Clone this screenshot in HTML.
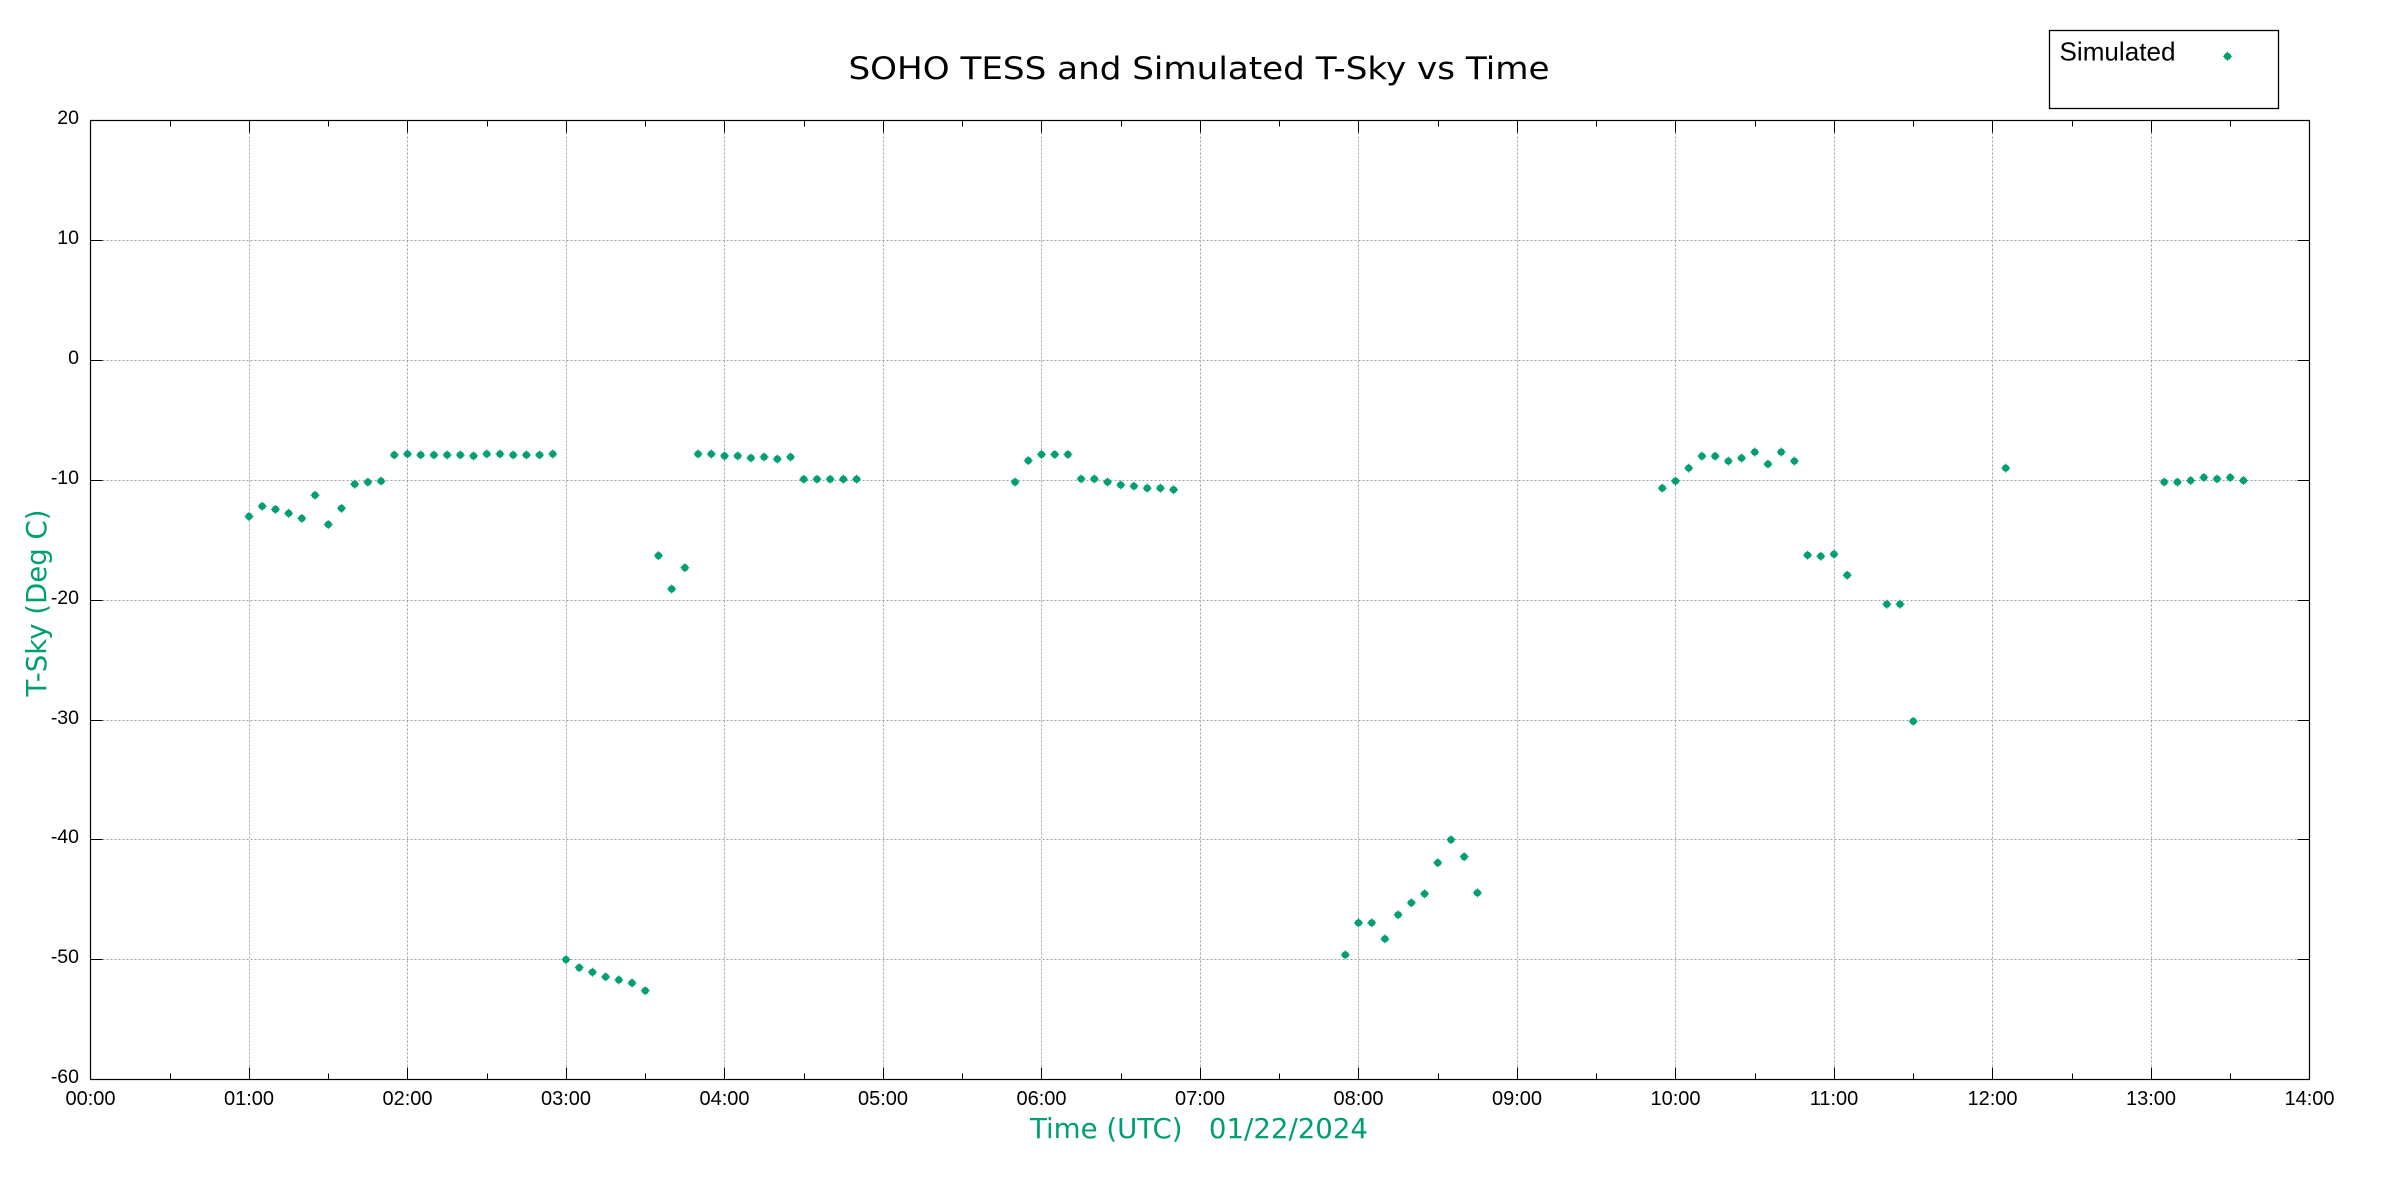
<!DOCTYPE html>
<html>
<head>
<meta charset="utf-8">
<style>
html,body{margin:0;padding:0;background:#fff;}
svg{display:block;}
.tk{font-family:"Liberation Sans",Arial,sans-serif;fill:#000;}
.lab{font-family:"DejaVu Sans","Liberation Sans",sans-serif;fill:#009e73;}
</style>
</head>
<body>
<svg width="2400" height="1200" viewBox="0 0 2400 1200" xmlns="http://www.w3.org/2000/svg">
<defs>
<g id="p"><circle cx="0" cy="0" r="3.6" fill="#009e73"/><rect x="-4.5" y="-0.5" width="9" height="1" fill="#009e73"/><rect x="-0.5" y="-4.5" width="1" height="9" fill="#009e73"/></g>
</defs>
<rect x="0" y="0" width="2400" height="1200" fill="#fff"/>
<g stroke="#a0a0a0" stroke-width="1" stroke-dasharray="2 2" fill="none">
<path d="M249.5 120.5V1079.5M407.5 120.5V1079.5M566.5 120.5V1079.5M724.5 120.5V1079.5M883.5 120.5V1079.5M1041.5 120.5V1079.5M1200.5 120.5V1079.5M1358.5 120.5V1079.5M1517.5 120.5V1079.5M1675.5 120.5V1079.5M1834.5 120.5V1079.5M1992.5 120.5V1079.5M2151.5 120.5V1079.5"/>
<path d="M90.5 240.5H2309.5M90.5 360.5H2309.5M90.5 480.5H2309.5M90.5 600.5H2309.5M90.5 720.5H2309.5M90.5 839.5H2309.5M90.5 959.5H2309.5"/>
</g>
<g stroke="#000" stroke-width="1" fill="none">
<path d="M249.5 1079.5V1067.5M407.5 1079.5V1067.5M566.5 1079.5V1067.5M724.5 1079.5V1067.5M883.5 1079.5V1067.5M1041.5 1079.5V1067.5M1200.5 1079.5V1067.5M1358.5 1079.5V1067.5M1517.5 1079.5V1067.5M1675.5 1079.5V1067.5M1834.5 1079.5V1067.5M1992.5 1079.5V1067.5M2151.5 1079.5V1067.5"/>
<path d="M249.5 120.5V132.5M407.5 120.5V132.5M566.5 120.5V132.5M724.5 120.5V132.5M883.5 120.5V132.5M1041.5 120.5V132.5M1200.5 120.5V132.5M1358.5 120.5V132.5M1517.5 120.5V132.5M1675.5 120.5V132.5M1834.5 120.5V132.5M1992.5 120.5V132.5M2151.5 120.5V132.5"/>
<path d="M170.5 1079.5V1073.5M328.5 1079.5V1073.5M487.5 1079.5V1073.5M645.5 1079.5V1073.5M804.5 1079.5V1073.5M962.5 1079.5V1073.5M1121.5 1079.5V1073.5M1279.5 1079.5V1073.5M1438.5 1079.5V1073.5M1596.5 1079.5V1073.5M1755.5 1079.5V1073.5M1913.5 1079.5V1073.5M2072.5 1079.5V1073.5M2230.5 1079.5V1073.5"/>
<path d="M170.5 120.5V126.5M328.5 120.5V126.5M487.5 120.5V126.5M645.5 120.5V126.5M804.5 120.5V126.5M962.5 120.5V126.5M1121.5 120.5V126.5M1279.5 120.5V126.5M1438.5 120.5V126.5M1596.5 120.5V126.5M1755.5 120.5V126.5M1913.5 120.5V126.5M2072.5 120.5V126.5M2230.5 120.5V126.5"/>
<path d="M90.5 240.5H102.5M90.5 360.5H102.5M90.5 480.5H102.5M90.5 600.5H102.5M90.5 720.5H102.5M90.5 839.5H102.5M90.5 959.5H102.5"/>
<path d="M2309.5 240.5H2297.5M2309.5 360.5H2297.5M2309.5 480.5H2297.5M2309.5 600.5H2297.5M2309.5 720.5H2297.5M2309.5 839.5H2297.5M2309.5 959.5H2297.5"/>
</g>
<rect x="90.5" y="120.5" width="2219" height="959" fill="none" stroke="#000" stroke-width="1.2"/>
<g class="tk" font-size="19.5" text-anchor="end">
<text x="79" y="124">20</text>
<text x="79" y="244">10</text>
<text x="79" y="364">0</text>
<text x="79" y="484">-10</text>
<text x="79" y="604">-20</text>
<text x="79" y="724">-30</text>
<text x="79" y="843">-40</text>
<text x="79" y="963">-50</text>
<text x="79" y="1083">-60</text>
</g>
<g class="tk" font-size="20" text-anchor="middle">
<text x="90.5" y="1105">00:00</text>
<text x="249" y="1105">01:00</text>
<text x="407.5" y="1105">02:00</text>
<text x="566" y="1105">03:00</text>
<text x="724.5" y="1105">04:00</text>
<text x="883" y="1105">05:00</text>
<text x="1041.5" y="1105">06:00</text>
<text x="1200" y="1105">07:00</text>
<text x="1358.5" y="1105">08:00</text>
<text x="1517" y="1105">09:00</text>
<text x="1675.5" y="1105">10:00</text>
<text x="1834" y="1105">11:00</text>
<text x="1992.5" y="1105">12:00</text>
<text x="2151" y="1105">13:00</text>
<text x="2309.5" y="1105">14:00</text>
</g>
<text x="848.5" y="79" font-family="'DejaVu Sans','Liberation Sans',sans-serif" font-size="31" fill="#000" textLength="701" lengthAdjust="spacingAndGlyphs">SOHO TESS and Simulated T-Sky vs Time</text>
<text class="lab" x="1030" y="1138" font-size="27.5" textLength="338" lengthAdjust="spacingAndGlyphs">Time (UTC)&#160;&#160;&#160;01/22/2024</text>
<text class="lab" transform="translate(46,696.5) rotate(-90)" x="0" y="0" font-size="27.5" textLength="187" lengthAdjust="spacingAndGlyphs">T-Sky (Deg C)</text>
<rect x="2049.5" y="30.5" width="229" height="78" fill="#fff" stroke="#000" stroke-width="1.3"/>
<text class="tk" x="2059.5" y="60.5" font-size="26" textLength="116" lengthAdjust="spacingAndGlyphs">Simulated</text>
<use href="#p" x="2227.5" y="56.3"/>
<g>
<use href="#p" x="249.0" y="516.45"/>
<use href="#p" x="262.21" y="506.26"/>
<use href="#p" x="275.42" y="509.37"/>
<use href="#p" x="288.63" y="513.33"/>
<use href="#p" x="301.83" y="518.36"/>
<use href="#p" x="315.04" y="495.23"/>
<use href="#p" x="328.25" y="524.48"/>
<use href="#p" x="341.46" y="508.30"/>
<use href="#p" x="354.67" y="484.20"/>
<use href="#p" x="367.88" y="482.16"/>
<use href="#p" x="381.08" y="481.08"/>
<use href="#p" x="394.29" y="454.95"/>
<use href="#p" x="407.5" y="453.99"/>
<use href="#p" x="420.71" y="454.95"/>
<use href="#p" x="433.92" y="454.95"/>
<use href="#p" x="447.13" y="454.95"/>
<use href="#p" x="460.33" y="454.95"/>
<use href="#p" x="473.54" y="455.91"/>
<use href="#p" x="486.75" y="453.99"/>
<use href="#p" x="499.96" y="453.99"/>
<use href="#p" x="513.17" y="454.95"/>
<use href="#p" x="526.38" y="454.95"/>
<use href="#p" x="539.58" y="454.95"/>
<use href="#p" x="552.79" y="453.99"/>
<use href="#p" x="566.0" y="959.63"/>
<use href="#p" x="579.21" y="967.66"/>
<use href="#p" x="592.42" y="972.21"/>
<use href="#p" x="605.63" y="976.89"/>
<use href="#p" x="618.83" y="979.88"/>
<use href="#p" x="632.04" y="983.00"/>
<use href="#p" x="645.25" y="990.68"/>
<use href="#p" x="658.46" y="555.65"/>
<use href="#p" x="671.67" y="588.97"/>
<use href="#p" x="684.88" y="567.75"/>
<use href="#p" x="698.08" y="453.99"/>
<use href="#p" x="711.29" y="453.99"/>
<use href="#p" x="724.5" y="455.91"/>
<use href="#p" x="737.71" y="455.91"/>
<use href="#p" x="750.92" y="457.95"/>
<use href="#p" x="764.13" y="456.99"/>
<use href="#p" x="777.33" y="459.03"/>
<use href="#p" x="790.54" y="456.99"/>
<use href="#p" x="803.75" y="479.17"/>
<use href="#p" x="816.96" y="479.17"/>
<use href="#p" x="830.17" y="479.17"/>
<use href="#p" x="843.38" y="479.17"/>
<use href="#p" x="856.58" y="479.17"/>
<use href="#p" x="1015.08" y="482.04"/>
<use href="#p" x="1028.29" y="460.59"/>
<use href="#p" x="1041.5" y="454.47"/>
<use href="#p" x="1054.71" y="454.47"/>
<use href="#p" x="1067.92" y="454.47"/>
<use href="#p" x="1081.13" y="478.93"/>
<use href="#p" x="1094.33" y="478.93"/>
<use href="#p" x="1107.54" y="482.04"/>
<use href="#p" x="1120.75" y="484.92"/>
<use href="#p" x="1133.96" y="486.12"/>
<use href="#p" x="1147.17" y="488.16"/>
<use href="#p" x="1160.38" y="488.16"/>
<use href="#p" x="1173.58" y="489.72"/>
<use href="#p" x="1345.29" y="954.83"/>
<use href="#p" x="1358.5" y="922.82"/>
<use href="#p" x="1371.71" y="922.82"/>
<use href="#p" x="1384.92" y="938.89"/>
<use href="#p" x="1398.13" y="914.79"/>
<use href="#p" x="1411.33" y="902.80"/>
<use href="#p" x="1424.54" y="893.81"/>
<use href="#p" x="1437.75" y="862.77"/>
<use href="#p" x="1450.96" y="839.75"/>
<use href="#p" x="1464.17" y="856.77"/>
<use href="#p" x="1477.38" y="892.85"/>
<use href="#p" x="1662.29" y="488.16"/>
<use href="#p" x="1675.5" y="481.08"/>
<use href="#p" x="1688.71" y="468.14"/>
<use href="#p" x="1701.92" y="456.15"/>
<use href="#p" x="1715.13" y="456.15"/>
<use href="#p" x="1728.33" y="461.06"/>
<use href="#p" x="1741.54" y="458.07"/>
<use href="#p" x="1754.75" y="452.07"/>
<use href="#p" x="1767.96" y="464.06"/>
<use href="#p" x="1781.17" y="452.07"/>
<use href="#p" x="1794.38" y="461.06"/>
<use href="#p" x="1807.58" y="555.17"/>
<use href="#p" x="1820.79" y="556.25"/>
<use href="#p" x="1834.0" y="554.21"/>
<use href="#p" x="1847.21" y="575.19"/>
<use href="#p" x="1886.83" y="604.20"/>
<use href="#p" x="1900.04" y="604.20"/>
<use href="#p" x="1913.25" y="721.31"/>
<use href="#p" x="2005.71" y="468.14"/>
<use href="#p" x="2164.21" y="482.04"/>
<use href="#p" x="2177.42" y="482.04"/>
<use href="#p" x="2190.63" y="480.49"/>
<use href="#p" x="2203.83" y="477.49"/>
<use href="#p" x="2217.04" y="478.93"/>
<use href="#p" x="2230.25" y="477.49"/>
<use href="#p" x="2243.46" y="480.49"/>
</g>
</svg>
</body>
</html>
